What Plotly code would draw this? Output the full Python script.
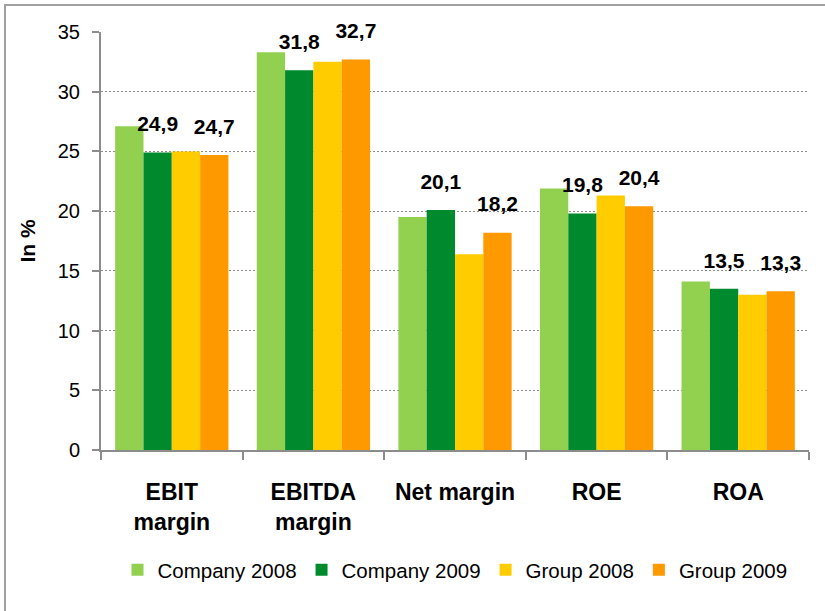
import plotly.graph_objects as go

categories = ["EBIT<br>margin", "EBITDA<br>margin", "Net margin", "ROE", "ROA"]
company_2008 = [27.1, 33.3, 19.5, 21.9, 14.1]
company_2009 = [24.9, 31.8, 20.1, 19.8, 13.5]
group_2008 = [25.0, 32.5, 16.4, 21.3, 13.0]
group_2009 = [24.7, 32.7, 18.2, 20.4, 13.3]

series_names = ["Company 2008", "Company 2009", "Group 2008", "Group 2009"]
series_values = [company_2008, company_2009, group_2008, group_2009]
series_colors = ["#92D050", "#008A2E", "#FFCC00", "#FF9900"]
show_labels = [False, True, False, True]

FONT = "Liberation Sans, Arial, sans-serif"

fig = go.Figure()
for name, vals, col in zip(series_names, series_values, series_colors):
    fig.add_trace(go.Bar(
        x=categories, y=vals, name=name,
        marker=dict(color=col, line=dict(width=0)),
    ))

for name, vals, lab in zip(series_names, series_values, show_labels):
    fig.add_trace(go.Scatter(
        x=categories, y=vals, mode="markers+text",
        text=[f"{v:.1f}".replace(".", ",") if lab else "" for v in vals],
        textposition="top center",
        textfont=dict(family=FONT, size=21, color="#000000", weight="bold"),
        marker=dict(size=24, opacity=0),
        showlegend=False, hoverinfo="skip", cliponaxis=False,
    ))

fig.update_layout(
    width=825, height=611,
    margin=dict(l=101, r=16, t=32, b=161, autoexpand=False),
    paper_bgcolor="white", plot_bgcolor="white",
    barmode="group", bargap=0.2, bargroupgap=0.0,
    scattermode="group", scattergap=0.2,
    font=dict(family=FONT, color="#000000"),
    legend=dict(
        orientation="h", x=0.5, xanchor="center", y=-0.287, yanchor="middle",
        font=dict(family=FONT, size=20.5, color="#000000"),
        itemclick=False, itemdoubleclick=False,
    ),
    xaxis=dict(
        type="category", automargin=False, tickangle=0,
        showline=True, linecolor="#8c8c8c", linewidth=2,
        ticks="outside", tickson="boundaries", ticklen=8, tickcolor="#8c8c8c", tickwidth=2,
        tickfont=dict(family=FONT, size=23, color="#000000", weight="bold"),
        ticklabelstandoff=20,
        showgrid=False,
    ),
    yaxis=dict(
        range=[0, 35], dtick=5, tick0=0, automargin=False,
        showline=True, linecolor="#8c8c8c", linewidth=2,
        ticks="outside", ticklen=7, tickcolor="#8c8c8c", tickwidth=2,
        tickfont=dict(family=FONT, size=20, color="#000000"),
        ticklabelstandoff=8,
        showgrid=True, gridcolor="#8c8c8c", gridwidth=1, griddash="2px,2px",
        zeroline=False,
        title=dict(text="In %", font=dict(family=FONT, size=21, color="#000000", weight="bold"), standoff=16),
    ),
    shapes=[dict(
        type="rect", xref="paper", yref="paper",
        x0=(5 - 101) / 708, x1=(840 - 101) / 708,
        y0=(450 - 630) / 418, y1=(450 - 5) / 418,
        line=dict(color="#a0a0a0", width=2), fillcolor="rgba(0,0,0,0)", layer="below",
    )],
)

fig.write_html("out.html", config={"displayModeBar": False},
               post_script="document.body.style.margin='0';")
